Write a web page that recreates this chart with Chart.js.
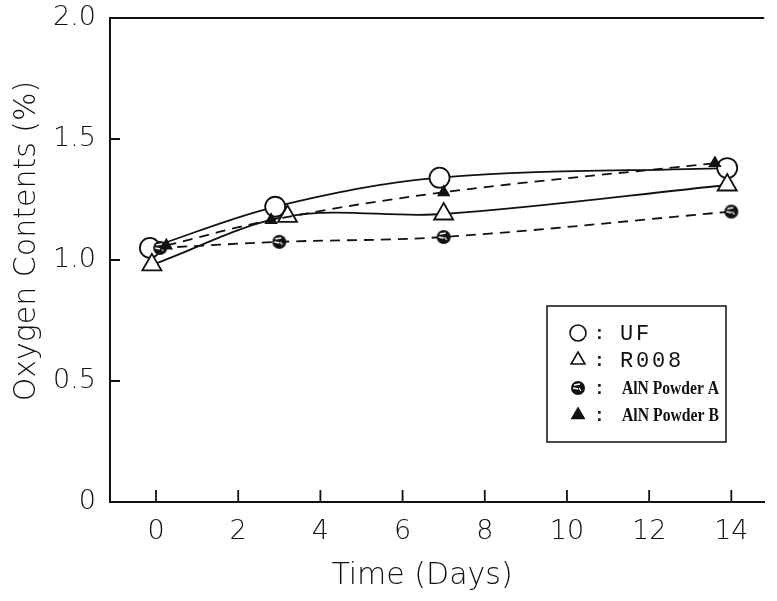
<!DOCTYPE html>
<html>
<head>
<meta charset="utf-8">
<script src="https://cdn.jsdelivr.net/npm/chart.js@4.4.1/dist/chart.umd.min.js"></script>
<style>
html, body { margin: 0; padding: 0; background: #fff; }
#wrap { width: 777px; height: 601px; }
</style>
</head>
<body>
<div id="wrap"><canvas id="oxygen-chart"></canvas></div>
<script>
const seriesNames = ['UF', 'R008', 'AlN Powder A', 'AlN Powder B'];
const ufDays = [-0.15, 2.9, 6.9, 13.9];
const ufValues = [1.05, 1.22, 1.34, 1.38];
const r008Days = [-0.1, 3.2, 7.0, 13.9];
const r008Values = [0.98, 1.18, 1.19, 1.31];
const powderADays = [0.1, 3.0, 7.0, 14.0];
const powderAValues = [1.05, 1.075, 1.095, 1.20];
const powderBDays = [0.25, 2.8, 7.0, 13.6];
const powderBValues = [1.06, 1.165, 1.28, 1.40];
const xTicks = [0, 2, 4, 6, 8, 10, 12, 14];
const yTicks = [0, 0.5, 1.0, 1.5, 2.0];
const yTickLabels = ['0', '0.5', '1.0', '1.5', '2.0'];

const tickFont = { family: "'DejaVu Sans'", size: 27, weight: 200 };

// hatched black dot used for powder A
function hatchedDot(r) {
    const c = document.createElement('canvas');
    c.width = c.height = r * 2 + 2;
    const g = c.getContext('2d');
    g.fillStyle = '#111';
    g.beginPath();
    g.arc(r + 1, r + 1, r, 0, Math.PI * 2);
    g.fill();
    g.strokeStyle = '#fff';
    g.lineWidth = 1.3;
    g.beginPath();
    g.moveTo(r - 3, r - 2); g.lineTo(r + 3, r - 3);
    g.moveTo(r - 4, r + 1); g.lineTo(r + 1, r + 2);
    g.moveTo(r + 2, r + 1); g.lineTo(r + 4, r + 4);
    g.stroke();
    return c;
}
const dotA = hatchedDot(7);

function pts(xs, ys) {
    return xs.map((x, i) => ({ x: x, y: ys[i] }));
}

const styles = [
    { pointStyle: 'circle', pointRadius: 10, backgroundColor: '#fff', dash: [] },
    { pointStyle: 'triangle', pointRadius: 11, backgroundColor: '#fff', dash: [] },
    { pointStyle: dotA, pointRadius: 7, backgroundColor: '#111', dash: [10, 7] },
    { pointStyle: 'triangle', pointRadius: 6, backgroundColor: '#111', dash: [10, 7] }
];
const seriesData = [pts(ufDays, ufValues), pts(r008Days, r008Values), pts(powderADays, powderAValues), pts(powderBDays, powderBValues)];

const datasets = seriesNames.map((name, i) => ({
    label: name,
    data: seriesData[i],
    showLine: true,
    tension: 0.35,
    borderColor: '#111',
    borderWidth: 1.8,
    borderDash: styles[i].dash,
    pointStyle: styles[i].pointStyle,
    pointRadius: styles[i].pointRadius,
    pointBackgroundColor: styles[i].backgroundColor,
    pointBorderColor: '#111',
    pointBorderWidth: 1.8,
    order: 4 - i
}));

const framePlugin = {
    id: 'frame',
    afterDraw(chart) {
        const ctx = chart.ctx;
        const a = chart.chartArea;
        const xs = chart.scales.x, ys = chart.scales.y;
        ctx.save();
        ctx.strokeStyle = '#111';
        ctx.lineWidth = 2;
        ctx.beginPath();
        ctx.moveTo(a.left, a.top);
        ctx.lineTo(a.right, a.top);
        ctx.stroke();
        // inward ticks
        ctx.lineWidth = 1.8;
        ctx.beginPath();
        xTicks.forEach(v => {
            const px = xs.getPixelForValue(v);
            ctx.moveTo(px, a.bottom);
            ctx.lineTo(px, a.bottom - 12);
        });
        yTicks.forEach(v => {
            const py = ys.getPixelForValue(v);
            ctx.moveTo(a.left, py);
            ctx.lineTo(a.left + 10, py);
        });
        ctx.stroke();

        // axis titles
        ctx.fillStyle = '#111';
        ctx.font = "200 30px 'DejaVu Sans'";
        ctx.textAlign = 'center';
        ctx.textBaseline = 'middle';
        ctx.fillText('Time (Days)', 422, 576);
        ctx.translate(27, 241);
        ctx.rotate(-Math.PI / 2);
        ctx.fillText('Oxygen Contents (%)', 0, 0);
        ctx.restore();

        // legend box
        ctx.save();
        ctx.strokeStyle = '#111';
        ctx.lineWidth = 1.5;
        ctx.strokeRect(547, 306, 179, 136);
        const rows = [333, 360, 388, 415];
        chart.data.datasets.forEach((ds, i) => {
            const y = rows[i];
            ctx.fillStyle = ds.pointBackgroundColor;
            ctx.strokeStyle = '#111';
            ctx.lineWidth = 1.6;
            Chart.helpers.drawPoint(ctx, {
                pointStyle: ds.pointStyle,
                radius: i < 2 ? 8 : 7,
                rotation: 0,
                borderWidth: 1.6
            }, 578, y);
            ctx.fillStyle = '#111';
            ctx.font = "bold 18px 'Liberation Mono'";
            ctx.textAlign = 'left';
            ctx.textBaseline = 'middle';
            ctx.fillText(':', 594, y + 1);
            if (i < 2) {
                ctx.font = "22px 'Liberation Mono'";
                ds.label.split('').forEach((ch, k) => ctx.fillText(ch, 620 + k * 16, y + 1));
            } else {
                ctx.font = "bold 19px 'Liberation Serif'";
                const w = ctx.measureText(ds.label).width;
                ctx.save();
                ctx.translate(622, y + 1);
                ctx.scale(97 / w, 1);
                ctx.fillText(ds.label, 0, 0);
                ctx.restore();
            }
        });
        ctx.restore();
    }
};

const chart = new Chart(document.getElementById('oxygen-chart').getContext('2d'), {
    type: 'scatter',
    data: { datasets: datasets },
    options: {
        responsive: true,
        maintainAspectRatio: false,
        animation: false,
        layout: { padding: { top: 18, right: 0, left: 0, bottom: 0 } },
        plugins: { legend: { display: false }, tooltip: { enabled: false } },
        scales: {
            x: {
                type: 'linear',
                min: -1.12,
                max: 14.8,
                afterBuildTicks: s => { s.ticks = xTicks.map(v => ({ value: v })); },
                afterFit: s => { s.height = 99; s.paddingLeft = 0; s.paddingRight = 0; },
                grid: { display: false, drawTicks: false },
                border: { display: true, color: '#111', width: 2 },
                ticks: { color: '#111', font: tickFont, padding: 14, maxRotation: 0 }
            },
            y: {
                type: 'linear',
                min: 0,
                max: 2,
                afterBuildTicks: s => { s.ticks = yTicks.map(v => ({ value: v })); },
                afterFit: s => { s.width = 110; s.paddingTop = 0; s.paddingBottom = 0; },
                grid: { display: false, drawTicks: false },
                border: { display: true, color: '#111', width: 2 },
                ticks: {
                    color: '#111',
                    font: tickFont,
                    padding: 14,
                    callback: (v, i) => yTickLabels[yTicks.indexOf(v)]
                }
            }
        }
    },
    plugins: [framePlugin]
});
</script>
</body>
</html>
